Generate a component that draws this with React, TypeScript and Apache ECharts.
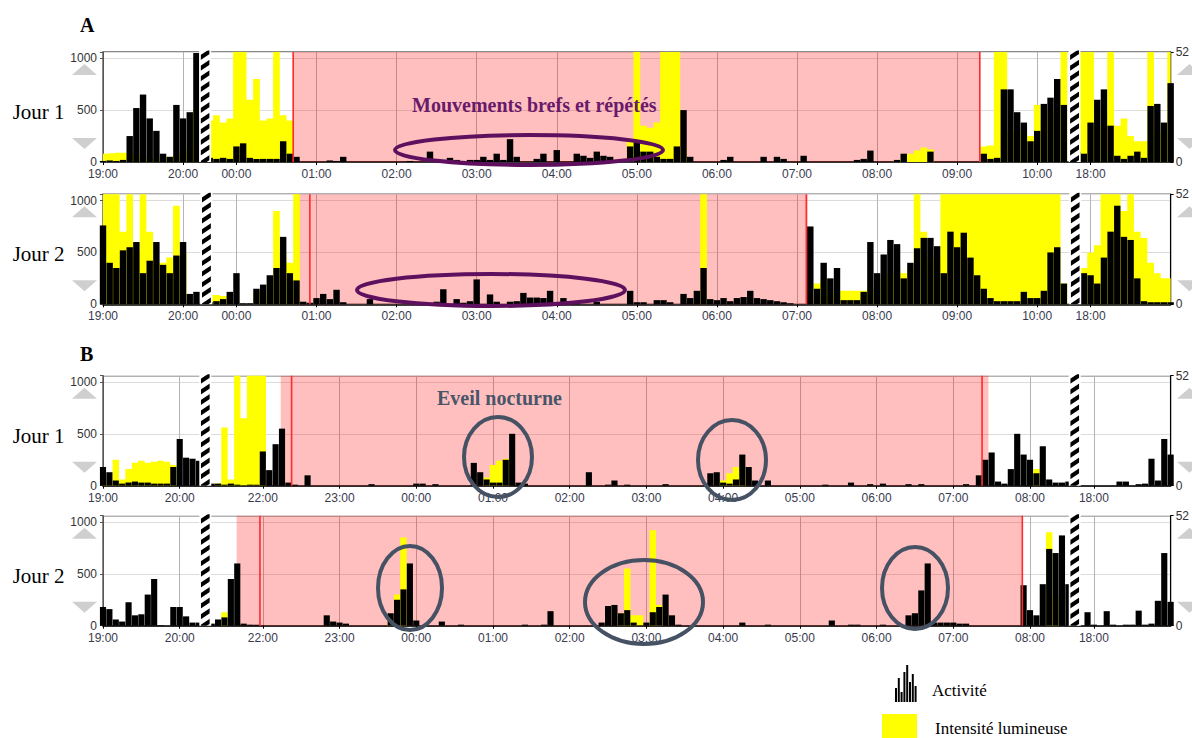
import React, { useEffect, useRef } from 'react';
import * as echarts from 'echarts';

// ---- time segments (5-minute points) ----
const SEGS_A = [
  { start: '19:00', count: 15 },
  { start: '23:40', count: 129 },
  { start: '17:50', count: 15 },
];
const SEGS_B = [
  { start: '19:00', count: 16 },
  { start: '21:20', count: 135 },
  { start: '17:50', count: 15 },
];

const LEFT_TICKS = [0, 500, 1000];
const RIGHT_TICKS = [0, 52];

// ---- A / Jour 1 ----
const aJ1Act1 = [10, 15, 10, 20, 250, 520, 650, 420, 300, 80, 50, 550, 420, 480, 1050];
const aJ1Light1 = [80, 85, 90, 90, 80, 70, 50, 40, 30, 40, 50, 60, 100, 150, 500];
const aJ1Act2 = [
  40, 30, 40, 30, 150, 180, 40, 30, 30, 30,
  30, 200, 80, 50, 0, 0, 0, 0, 15, 10,
  50, 0, 0, 0, 0, 0, 0, 0, 0, 0,
  10, 0, 0, 100, 15, 0, 40, 20, 0, 20,
  20, 50, 20, 80, 20, 220, 50, 0, 0, 30,
  80, 0, 115, 0, 0, 80, 60, 40, 100, 60,
  50, 10, 10, 150, 200, 100, 100, 50, 30, 30,
  150, 500, 50, 0, 0, 0, 0, 20, 50, 0,
  0, 0, 0, 50, 0, 50, 30, 0, 0, 60,
  0, 0, 0, 0, 0, 0, 0, 20, 30, 110,
  0, 0, 0, 20, 80, 0, 0, 0, 100, 0,
  0, 0, 0, 0, 0, 0, 80, 30, 40, 700,
  700, 480, 380, 200, 300, 560, 620, 800, 550,
];
const aJ1Light2 = [
  400, 450, 380, 420, 1100, 1100, 600, 800, 400, 420,
  1100, 450, 400, 0, 0, 0, 0, 0, 0, 0,
  0, 0, 0, 0, 0, 0, 0, 0, 0, 0,
  0, 0, 0, 0, 0, 0, 0, 0, 0, 0,
  0, 0, 0, 0, 0, 0, 0, 0, 0, 0,
  0, 0, 0, 0, 0, 0, 0, 0, 0, 0,
  0, 0, 0, 200, 1100, 350, 330, 380, 1100, 1100,
  1100, 150, 0, 0, 0, 0, 0, 0, 0, 0,
  0, 0, 0, 0, 0, 0, 0, 0, 0, 0,
  0, 0, 0, 0, 0, 0, 0, 0, 0, 0,
  0, 0, 0, 20, 40, 80, 110, 140, 120, 0,
  0, 0, 0, 0, 0, 0, 150, 160, 1100, 1100,
  300, 300, 300, 250, 550, 400, 500, 600, 1100,
];
const aJ1Act3 = [100, 80, 380, 600, 700, 350, 60, 30, 60, 100, 40, 540, 560, 380, 760];
const aJ1Light3 = [1100, 1100, 1100, 350, 500, 1100, 350, 420, 250, 200, 200, 1100, 300, 280, 1100];

// ---- A / Jour 2 ----
const aJ2Act1 = [760, 400, 350, 520, 550, 600, 300, 420, 600, 380, 300, 470, 600, 100, 120];
const aJ2Light1 = [1100, 1100, 1100, 700, 1100, 500, 1100, 700, 400, 400, 450, 950, 500, 0, 0];
const aJ2Act2 = [
  20, 30, 50, 120, 300, 10, 10, 150, 190, 280,
  350, 650, 300, 230, 25, 15, 60, 100, 50, 140,
  20, 0, 0, 0, 50, 0, 0, 0, 0, 0,
  0, 0, 0, 0, 25, 145, 0, 50, 15, 30,
  240, 0, 95, 25, 0, 25, 30, 110, 65, 65,
  60, 130, 0, 60, 30, 30, 0, 0, 25, 0,
  0, 0, 0, 130, 20, 20, 0, 40, 40, 20,
  0, 100, 60, 130, 350, 50, 40, 60, 30, 60,
  70, 130, 60, 50, 40, 30, 20, 10, 0, 0,
  750, 150, 400, 250, 350, 40, 40, 40, 120, 600,
  300, 480, 620, 580, 250, 400, 540, 640, 640, 560,
  300, 700, 550, 690, 450, 280, 150, 60, 30, 30,
  30, 30, 120, 60, 60, 130, 500, 550, 200,
];
const aJ2Light2 = [
  90, 90, 80, 80, 0, 0, 0, 120, 120, 200,
  900, 500, 400, 1100, 0, 0, 0, 0, 0, 0,
  0, 0, 0, 0, 0, 0, 0, 0, 0, 0,
  0, 0, 0, 0, 0, 0, 0, 0, 0, 0,
  0, 0, 0, 0, 0, 0, 0, 0, 0, 0,
  0, 0, 0, 0, 0, 0, 0, 0, 0, 0,
  0, 0, 0, 0, 0, 0, 0, 0, 0, 0,
  0, 0, 0, 0, 1100, 0, 0, 0, 0, 0,
  0, 0, 0, 0, 0, 0, 0, 0, 0, 0,
  0, 200, 250, 130, 130, 130, 130, 130, 130, 150,
  150, 250, 300, 350, 300, 350, 1100, 700, 450, 450,
  1100, 1100, 1100, 1100, 1100, 1100, 1100, 1100, 1100, 1100,
  1100, 1100, 1100, 1100, 1100, 1100, 1100, 1100, 200,
];
const aJ2Act3 = [200, 300, 280, 200, 450, 700, 950, 650, 620, 250, 30, 20, 20, 20, 20];
const aJ2Light3 = [300, 350, 500, 570, 1100, 1100, 1100, 900, 1100, 700, 640, 400, 300, 250, 250];

// ---- B / Jour 1 ----
const bJ1Act1 = [180, 130, 50, 20, 30, 40, 30, 30, 20, 20, 20, 180, 450, 270, 260, 240];
const bJ1Light1 = [30, 30, 250, 60, 160, 220, 240, 220, 230, 240, 230, 200, 0, 0, 0, 0];
const bJ1Act2 = [
  20, 20, 10, 20, 10, 5, 10, 10, 330, 150,
  400, 550, 30, 10, 0, 100, 0, 0, 0, 0,
  0, 0, 0, 0, 0, 15, 0, 0, 0, 0,
  0, 0, 20, 20, 0, 15, 0, 0, 0, 0,
  0, 220, 130, 60, 30, 30, 250, 500, 30, 20,
  0, 0, 0, 0, 0, 0, 0, 0, 0, 130,
  0, 0, 10, 50, 0, 10, 0, 0, 0, 0,
  0, 15, 0, 0, 0, 0, 0, 0, 120, 130,
  30, 20, 60, 300, 180, 50, 0, 50, 0, 0,
  0, 0, 0, 0, 0, 0, 10, 0, 0, 0,
  30, 0, 0, 15, 0, 20, 0, 0, 0, 15,
  0, 15, 0, 0, 0, 0, 0, 0, 15, 0,
  100, 250, 320, 40, 20, 160, 500, 300, 250, 120,
  380, 60, 30, 30, 40,
];
const bJ1Light2 = [
  0, 20, 560, 60, 1100, 650, 1100, 1100, 1100, 0,
  0, 0, 0, 0, 0, 0, 0, 0, 0, 0,
  0, 0, 0, 0, 0, 0, 0, 0, 0, 0,
  0, 0, 0, 0, 0, 0, 0, 0, 0, 0,
  0, 0, 0, 80, 200, 240, 260, 0, 0, 0,
  0, 0, 0, 0, 0, 0, 0, 0, 0, 0,
  0, 0, 0, 0, 0, 0, 0, 0, 0, 0,
  0, 0, 0, 0, 0, 0, 0, 0, 0, 0,
  50, 120, 180, 150, 0, 0, 0, 0, 0, 0,
  0, 0, 0, 0, 0, 0, 0, 0, 0, 0,
  0, 0, 0, 0, 0, 0, 0, 0, 0, 0,
  0, 0, 0, 0, 0, 0, 0, 0, 0, 0,
  0, 0, 0, 0, 0, 0, 0, 0, 0, 160,
  0, 0, 0, 0, 0,
];
const bJ1Act3 = [0, 0, 0, 0, 0, 0, 40, 40, 0, 15, 20, 260, 50, 450, 300];
const bJ1Light3 = [0, 0, 0, 0, 0, 0, 0, 0, 0, 0, 0, 0, 0, 0, 0];

// ---- B / Jour 2 ----
const bJ2Act1 = [180, 160, 60, 40, 225, 100, 110, 300, 450, 5, 0, 180, 180, 90, 30, 30];
const bJ2Light1 = [0, 0, 0, 0, 0, 0, 0, 0, 0, 0, 0, 0, 0, 0, 0, 0];
const bJ2Act2 = [
  20, 60, 80, 450, 600, 20, 10, 10, 0, 0,
  0, 0, 0, 0, 0, 0, 0, 0, 100, 40,
  30, 20, 0, 0, 0, 0, 0, 0, 120, 250,
  350, 600, 50, 0, 0, 0, 40, 0, 0, 10,
  0, 0, 0, 0, 0, 0, 0, 0, 0, 10,
  0, 0, 10, 140, 0, 0, 0, 0, 0, 0,
  0, 30, 190, 200, 120, 150, 30, 5, 30, 130,
  180, 300, 100, 10, 0, 0, 0, 0, 0, 0,
  0, 0, 0, 30, 0, 0, 0, 10, 0, 0,
  0, 0, 0, 0, 0, 0, 0, 50, 0, 0,
  10, 10, 0, 0, 0, 10, 0, 0, 0, 100,
  120, 340, 600, 30, 30, 30, 30, 20, 20, 0,
  0, 0, 0, 0, 0, 0, 0, 390, 150, 100,
  400, 740, 700, 870, 400,
];
const bJ2Light2 = [
  0, 0, 130, 0, 0, 0, 0, 0, 0, 0,
  0, 0, 0, 0, 0, 0, 0, 0, 0, 0,
  0, 0, 0, 0, 0, 0, 0, 0, 60, 300,
  850, 0, 0, 0, 0, 0, 0, 0, 0, 0,
  0, 0, 0, 0, 0, 0, 0, 0, 0, 0,
  0, 0, 0, 0, 0, 0, 0, 0, 0, 0,
  0, 0, 0, 0, 120, 550, 100, 100, 0, 920,
  200, 0, 0, 0, 0, 0, 0, 0, 0, 0,
  0, 0, 0, 0, 0, 0, 0, 0, 0, 0,
  0, 0, 0, 0, 0, 0, 0, 0, 0, 0,
  0, 0, 0, 0, 0, 0, 0, 0, 0, 0,
  0, 0, 0, 0, 0, 0, 0, 0, 0, 0,
  0, 0, 0, 0, 0, 0, 0, 0, 0, 0,
  0, 900, 290, 0, 0,
];
const bJ2Act3 = [0, 130, 10, 0, 140, 10, 0, 10, 10, 145, 10, 20, 240, 700, 230];
const bJ2Light3 = [0, 0, 0, 0, 0, 0, 0, 0, 0, 0, 0, 0, 0, 0, 0];

// ---- helpers ----
function pad(n: number) {
  return n < 10 ? '0' + n : String(n);
}
function buildCategories(segs: { start: string; count: number }[]) {
  const cats: string[] = [];
  segs.forEach((s, k) => {
    if (k > 0) cats.push('');
    const [h, m] = s.start.split(':').map(Number);
    const t0 = h * 60 + m;
    for (let j = 0; j < s.count; j++) {
      const t = (t0 + j * 5) % 1440;
      cats.push(pad(Math.floor(t / 60)) + ':' + pad(t % 60));
    }
  });
  return cats;
}
function join(a: any[], b: any[], c: any[], gap: any) {
  return [...a, gap, ...b, gap, ...c];
}

const PANELS = [
  {
    name: 'Jour 1', top: 52, segs: SEGS_A,
    act: join(aJ1Act1, aJ1Act2, aJ1Act3, null), light: join(aJ1Light1, aJ1Light2, aJ1Light3, 0),
    pink: [28.5, 131.4], red: [28.5, 131.4], breaks: [15.3, 145.6],
  },
  {
    name: 'Jour 2', top: 194.3, segs: SEGS_A,
    act: join(aJ2Act1, aJ2Act2, aJ2Act3, null), light: join(aJ2Light1, aJ2Light2, aJ2Light3, 0),
    pink: [28.9, 105.6], red: [31.0, 105.4], breaks: [15.5, 145.7],
  },
  {
    name: 'Jour 1', top: 375.7, segs: SEGS_B,
    act: join(bJ1Act1, bJ1Act2, bJ1Act3, null), light: join(bJ1Light1, bJ1Light2, bJ1Light3, 0),
    pink: [27.8, 138.5], red: [29.5, 137.5], breaks: [16.0, 152.0],
  },
  {
    name: 'Jour 2', top: 515.7, segs: SEGS_B,
    act: join(bJ2Act1, bJ2Act2, bJ2Act3, null), light: join(bJ2Light1, bJ2Light2, bJ2Light3, 0),
    pink: [20.9, 143.8], red: [24.55, 143.8], breaks: [16.0, 152.0],
  },
];

const GRID_LEFT = 103;
const GRID_WIDTH = 1068;
const GRID_HEIGHT = 110;
const SERIF = 'Liberation Serif';
const SANS = 'Liberation Sans';

function buildOption() {
  const grid: any[] = [];
  const xAxis: any[] = [];
  const yAxis: any[] = [];
  const series: any[] = [];
  const graphic: any[] = [];

  const txt = (text: string, x: number, y: number, size: number, bold: boolean, fill: string) => ({
    type: 'text', x, y, z: 60, silent: true,
    style: {
      text, fill, fontFamily: SERIF, fontSize: size, fontWeight: bold ? 'bold' : 'normal',
      textVerticalAlign: 'middle', verticalAlign: 'middle',
    },
  });

  PANELS.forEach((p, k) => {
    const cats = buildCategories(p.segs);
    const N = cats.length;
    const isHour = (idx: number, val: string) =>
      typeof val === 'string' && val.endsWith(':00') && idx !== N - 1;

    grid.push({
      left: GRID_LEFT, width: GRID_WIDTH, top: p.top, height: GRID_HEIGHT,
      show: true, borderColor: '#666', borderWidth: 1.5, backgroundColor: 'transparent',
    });
    xAxis.push({
      type: 'category', gridIndex: k, data: cats, boundaryGap: false,
      axisLine: { show: true, lineStyle: { color: '#000', width: 1.5 } },
      axisTick: { show: true, length: 3, interval: isHour, lineStyle: { color: '#000' } },
      axisLabel: { interval: isHour, fontSize: 12, color: '#3a3a4e', margin: 6, fontFamily: SANS },
      splitLine: { show: true, interval: isHour, lineStyle: { color: '#b4b4b4', width: 1 } },
    });
    yAxis.push({
      type: 'value', gridIndex: k, min: 0, max: 1060, interval: 500, position: 'left',
      axisLine: { show: true, lineStyle: { color: '#555' } },
      axisTick: { show: true, length: 3, lineStyle: { color: '#555' } },
      axisLabel: {
        fontSize: 12, color: '#333', margin: 6, fontFamily: SANS,
        formatter: (v: number) => (LEFT_TICKS.includes(v) ? String(v) : ''),
      },
      splitLine: { show: true, lineStyle: { color: '#dcdcdc', width: 1 } },
    });
    yAxis.push({
      type: 'value', gridIndex: k, min: 0, max: 52, interval: 52, position: 'right',
      axisLine: { show: true, lineStyle: { color: '#000' } },
      axisTick: { show: true, length: 3, lineStyle: { color: '#000' } },
      axisLabel: {
        fontSize: 12, color: '#333', margin: 5, fontFamily: SANS,
        formatter: (v: number) => (RIGHT_TICKS.includes(v) ? String(v) : ''),
      },
      splitLine: { show: false },
    });

    const xAt = (api: any, v: number) => {
      const x0 = api.coord([0, 0])[0];
      const x1 = api.coord([N - 1, 0])[0];
      return x0 + (v * (x1 - x0)) / (N - 1);
    };

    // rest period band
    series.push({
      type: 'custom', xAxisIndex: k, yAxisIndex: 2 * k, z: 1, silent: true, data: [[0, 0]],
      renderItem: (params: any, api: any) => {
        const cs = params.coordSys;
        const a = xAt(api, p.pink[0]);
        const b = xAt(api, p.pink[1]);
        return {
          type: 'rect',
          shape: { x: a, y: cs.y, width: b - a, height: cs.height },
          style: { fill: 'rgba(255,0,0,0.25)' },
        };
      },
    });
    // light
    series.push({
      type: 'line', xAxisIndex: k, yAxisIndex: 2 * k, z: 2, data: p.light, step: 'middle',
      symbol: 'none', showSymbol: false, silent: true,
      lineStyle: { width: 0, color: '#ffff00' },
      areaStyle: { color: '#ffff00', opacity: 1 },
    });
    // activity
    series.push({
      type: 'bar', xAxisIndex: k, yAxisIndex: 2 * k, z: 3, data: p.act, barCategoryGap: '4%',
      itemStyle: { color: '#000' }, silent: true,
    });
    // red lines and breaks
    series.push({
      type: 'custom', xAxisIndex: k, yAxisIndex: 2 * k, z: 5, silent: true, data: [[0, 0]],
      renderItem: (params: any, api: any) => {
        const cs = params.coordSys;
        const children: any[] = [];
        p.red.forEach((r) => {
          const x = xAt(api, r);
          children.push({
            type: 'line',
            shape: { x1: x, y1: cs.y, x2: x, y2: cs.y + cs.height },
            style: { stroke: '#ff2a2a', lineWidth: 1.6 },
          });
        });
        p.breaks.forEach((bk) => {
          const cx = xAt(api, bk);
          const x0 = cx - 4.5;
          const x1 = cx + 4.5;
          const top = cs.y - 1.5;
          const bot = cs.y + cs.height;
          children.push({
            type: 'rect',
            shape: { x: x0 - 1.5, y: top, width: x1 - x0 + 3, height: bot - top },
            style: { fill: '#fff' },
          });
          const stripes: any[] = [];
          for (let y = top - 12; y < bot + 12; y += 10.6) {
            stripes.push({
              type: 'polygon',
              shape: { points: [[x0, y + 6], [x1, y], [x1, y + 5], [x0, y + 11]] },
              style: { fill: '#000' },
            });
          }
          children.push({
            type: 'group',
            children: stripes,
            clipPath: { type: 'rect', shape: { x: x0, y: top, width: x1 - x0, height: bot - top } },
          });
        });
        return { type: 'group', children };
      },
    });

    // side triangles
    const T = p.top;
    const tri = (pts: number[][]) => ({
      type: 'polygon', z: 50, silent: true, shape: { points: pts }, style: { fill: '#cfcfcf' },
    });
    graphic.push(tri([[72, T + 23], [84.5, T + 12], [97, T + 23]]));
    graphic.push(tri([[72, T + 86], [97, T + 86], [84.5, T + 97]]));
    graphic.push(tri([[1177, T + 23], [1189.5, T + 12], [1202, T + 23]]));
    graphic.push(tri([[1177, T + 86], [1202, T + 86], [1189.5, T + 97]]));
    graphic.push(txt(p.name, 12.7, T + 60, 21, false, '#000'));
  });

  graphic.push(txt('A', 80, 25, 20, true, '#000'));
  graphic.push(txt('B', 80, 354, 20, true, '#000'));
  graphic.push(txt('Mouvements brefs et répétés', 412, 105, 20, true, '#6a1a6a'));
  graphic.push(txt('Eveil nocturne', 437, 398, 20, true, '#4a5568'));

  const ell = (cx: number, cy: number, rx: number, ry: number, stroke: string) => ({
    type: 'ellipse', z: 60, silent: true,
    shape: { cx, cy, rx, ry },
    style: { fill: 'none', stroke, lineWidth: 4 },
  });
  graphic.push(ell(529, 150, 134, 15, '#5e105e'));
  graphic.push(ell(491, 290, 134, 16, '#5e105e'));
  graphic.push(ell(498, 457, 34, 40, '#465264'));
  graphic.push(ell(732, 460, 34, 40, '#465264'));
  graphic.push(ell(410, 588, 32, 42, '#465264'));
  graphic.push(ell(644, 602, 59, 42, '#465264'));
  graphic.push(ell(915, 588, 33, 41, '#465264'));

  // legend
  const iconHeights = [14, 24, 10, 30, 37, 20, 28, 16];
  iconHeights.forEach((h, j) => {
    graphic.push({
      type: 'rect', z: 60, silent: true,
      shape: { x: 895 + j * 2.8, y: 702 - h, width: 2, height: h },
      style: { fill: '#000' },
    });
  });
  graphic.push(txt('Activité', 932, 690, 17, false, '#000'));
  graphic.push({
    type: 'rect', z: 60, silent: true,
    shape: { x: 882, y: 714, width: 35, height: 24 },
    style: { fill: '#ffff00' },
  });
  graphic.push(txt('Intensité lumineuse', 935, 728, 17, false, '#000'));

  return { animation: false, grid, xAxis, yAxis, series, graphic };
}

export default function App() {
  const ref = useRef<HTMLDivElement>(null);
  useEffect(() => {
    if (!ref.current) return;
    const chart = echarts.init(ref.current, undefined, { renderer: 'svg' });
    chart.setOption(buildOption() as any);
    return () => chart.dispose();
  }, []);
  return (
    <div
      ref={ref}
      style={{ position: 'absolute', left: 0, top: 0, width: 1192, height: 738, background: '#fff' }}
    />
  );
}
